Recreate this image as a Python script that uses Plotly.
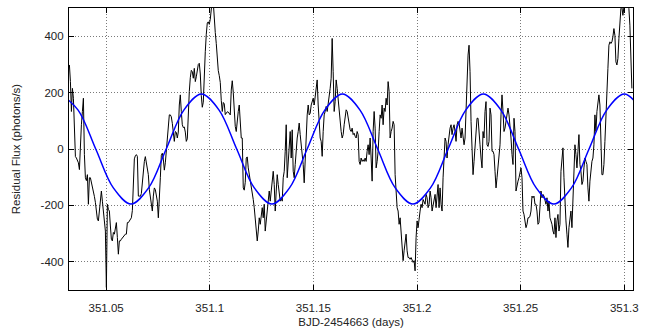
import numpy as np
import plotly.graph_objects as go

# Residual light curve (photons/s), evenly sampled from the first plotted point
t_first = 351.0323      # BJD-2454663 of the first sample (days)
cadence = 0.000482      # spacing between samples (days)

flux = [
    298, 239, 133, 215, 180, 62, -27, -32, -39, -49,
    -73, 39, 86, 133, 180, -20, -102, -112, -91, -196,
    -102, -102, -116, -132, -155, -168, -189, -220, -249, -255,
    -208, -179, -149, -185, -232, -261, -291, -491, -196, -214,
    -220, -273, -320, -326, -296, -302, -273, -261, -314, -373,
    -326, -326, -320, -316, -312, -305, -302, -302, -261, -261,
    -256, -251, -244, -218, -102, -35, -24, -20, -26, -167,
    -167, -168, -158, -116, -79, -44, -27, -46, -73, -91,
    -144, -173, -193, -220, -167, -138, -144, -161, -185, -244,
    -185,
    -102, -22, -15, -36, -75, -49, -2, 15, 95, 121,
    121, 114, 91, 54, 27, 62, 59, 39, 60, 156,
    192, 133, 86, 76, 78, 60, 27, 36, 133, 204,
    253, 279, 274, 251, 286, 239, 256, 274, 300, 304,
    266, 189, 148, 166, 278, 345, 407, 447, 451, 442,
    460, 484, 530, 520, 454, 413, 374, 321, 278, 260,
    236, 172, 133, 165, 160, 122, 127, 132, 131, 126,
    121, 209, 242, 201, 133, 80, 62, 107, 133, 156,
    86, 39, 39, -138, -146, -118, -32, -28, -67, -87,
    -114, -141, -155, -179,
    -208, -255, -314, -326, -291, -244, -267, -220, -208, -244,
    -196, -291, -255, -220, -196, -149, -185, -149, -126, -79,
    -126, -220, -149, -91, -126, -149, -185, -173, -185, -102,
    -79, -8, 86, -102, -55, 15, 62, -32, 68, -79,
    -102, -55, 4, 39, 62, 92, 51, 15, -44, -55,
    -120, -8, 39, 121, 156, 121, 127, 156, 168, 180,
    156, 186, 233, 245, 156, 86, 39, 27, -26, 62,
    121, 133, 151, 133, 156, 180, 215, 251, 392, 274,
    133, 168, 245, 215, 168, 133, 109, 62, 39, 51,
    86, 121, 139, 133,
    109, 98, 68, 62, 74, 51, 56, 45, 39, 62,
    51, -44, -55, -32, -44, -38, -44, -32, -44, -8,
    15, -20, 39, -32, -114, 62, 133, 74, -67, -44,
    -8, 62, 121, 109, 156, 86, 145, 133, 180, 156,
    239, 204, 39, 62, 74, 98, 86, -91, -161, -208,
    -220, -267, -244, -302, -361, -396, -361, -338, -302, -361,
    -385, -385, -391, -385, -396, -402, -396, -432, -314, -255,
    -279, -232, -220, -196, -208, -179, -185, -196, -161, -173,
    -208, -196, -149, -173, -220, -196, -185, -161, -208, -173,
    -126, -208, -138, -196,
    -220, -102, -20, 39, 27, -32, 15, 62, 74, 86,
    51, 74, 86, 62, 27, 86, 98, 92, 62, 39,
    74, 51, 15, 39, 156, 274, 333, 368, 274, 98,
    15, -91, -44, 15, 62, 109, 109, 39, 15, -32,
    -67, 62, 39, 133, 168, 15, 9, 27, 145, 121,
    -8, -8, -20, -79, -138, -102, -67, -32, 15, 121,
    192, 133, 62, 74, 98, 109, 145, 121, 86, 39,
    -20, -55, 109, 62, -149, -126, -114, -102, -79, -67,
    -102, -220, -232, -255, -279, -267, -244, -244, -238, -220,
    -167, -173, -167, -196,
    -196, -220, -267, -261, -196, -149, -173, -161, -167, -185,
    -196, -173, -220, -185, -244, -255, -267, -291, -302, -244,
    -314, -255, -232, -291, -267, -79, -20, 4, -102, -196,
    -255, -302, -349, -279, -244, -220, -279, -196, -102, 15,
    -20, -67, -8, 51, -55, -79, -126, -114, -67, -32,
    -44, -55, -138, -185, -114, -67, -44, -32, 15, 121,
    62, 133, 156, 192, 156, 39, -91, -91, -55, 27,
    98, 192, 286, 368, 380, 374, 380, 398, 427, 403,
    309, 298, 321, 392, 439, 498, 503, 474, 503, 521,
    533, 509, 503, 498, 439, 321, 215,
]
time = t_first + cadence * np.arange(len(flux))

# Fitted sinusoidal model, tabulated every eighth of a cycle
model_time = [
    351.0280, 351.0365, 351.0450, 351.0535, 351.0620, 351.0705, 351.0790, 351.0875,
    351.0960, 351.1045, 351.1130, 351.1215, 351.1300, 351.1385, 351.1470, 351.1555,
    351.1640, 351.1725, 351.1810, 351.1895, 351.1980, 351.2065, 351.2150, 351.2235,
    351.2320, 351.2405, 351.2490, 351.2575, 351.2660, 351.2745, 351.2830, 351.2915,
    351.3000, 351.3085,
]
model_flux = [
    195, 138, 0, -138, -195, -138, 0, 138,
    195, 138, 0, -138, -195, -138, 0, 138,
    195, 138, 0, -138, -195, -138, 0, 138,
    195, 138, 0, -138, -195, -138, 0, 138,
    195, 138,
]

x_ticks = [351.05, 351.1, 351.15, 351.2, 351.25, 351.3]
x_tick_text = ["351.05", "351.1", "351.15", "351.2", "351.25", "351.3"]
y_ticks = [-400, -200, 0, 200, 400]
y_tick_text = ["-400", "-200", "0", "200", "400"]

FONT = "Liberation Sans, Arial, Helvetica, sans-serif"

fig = go.Figure()
fig.add_trace(go.Scatter(
    x=time, y=flux, mode="lines",
    line=dict(color="black", width=1),
    showlegend=False, hoverinfo="skip",
))
fig.add_trace(go.Scatter(
    x=model_time, y=model_flux, mode="lines",
    line=dict(color="#0000ff", width=1.5, shape="spline", smoothing=1.0),
    showlegend=False, hoverinfo="skip",
))

axis_common = dict(
    showline=True, linecolor="black", linewidth=1.2, mirror="ticks",
    ticks="inside", ticklen=5, tickwidth=1, tickcolor="black",
    showgrid=True, gridcolor="#7a7a7a", griddash="1px,2px", gridwidth=1,
    zeroline=False, automargin=False,
    tickfont=dict(family=FONT, size=11.5, color="#222222"),
)

fig.update_layout(
    width=651, height=331,
    margin=dict(l=69, r=18, t=8, b=41),
    paper_bgcolor="white", plot_bgcolor="white",
    font=dict(family=FONT, size=11.5, color="#222222"),
    xaxis=dict(
        range=[351.0321, 351.3042],
        tickmode="array", tickvals=x_ticks, ticktext=x_tick_text,
        ticklabelstandoff=7,
        title=dict(text="BJD-2454663 (days)", font=dict(family=FONT, size=11.5), standoff=5),
        **axis_common,
    ),
    yaxis=dict(
        range=[-500, 500],
        tickmode="array", tickvals=y_ticks, ticktext=y_tick_text,
        ticklabelstandoff=2,
        title=dict(text="Residual Flux (photons/s)", font=dict(family=FONT, size=11.5), standoff=17),
        **axis_common,
    ),
)

fig.write_html("out.html")
